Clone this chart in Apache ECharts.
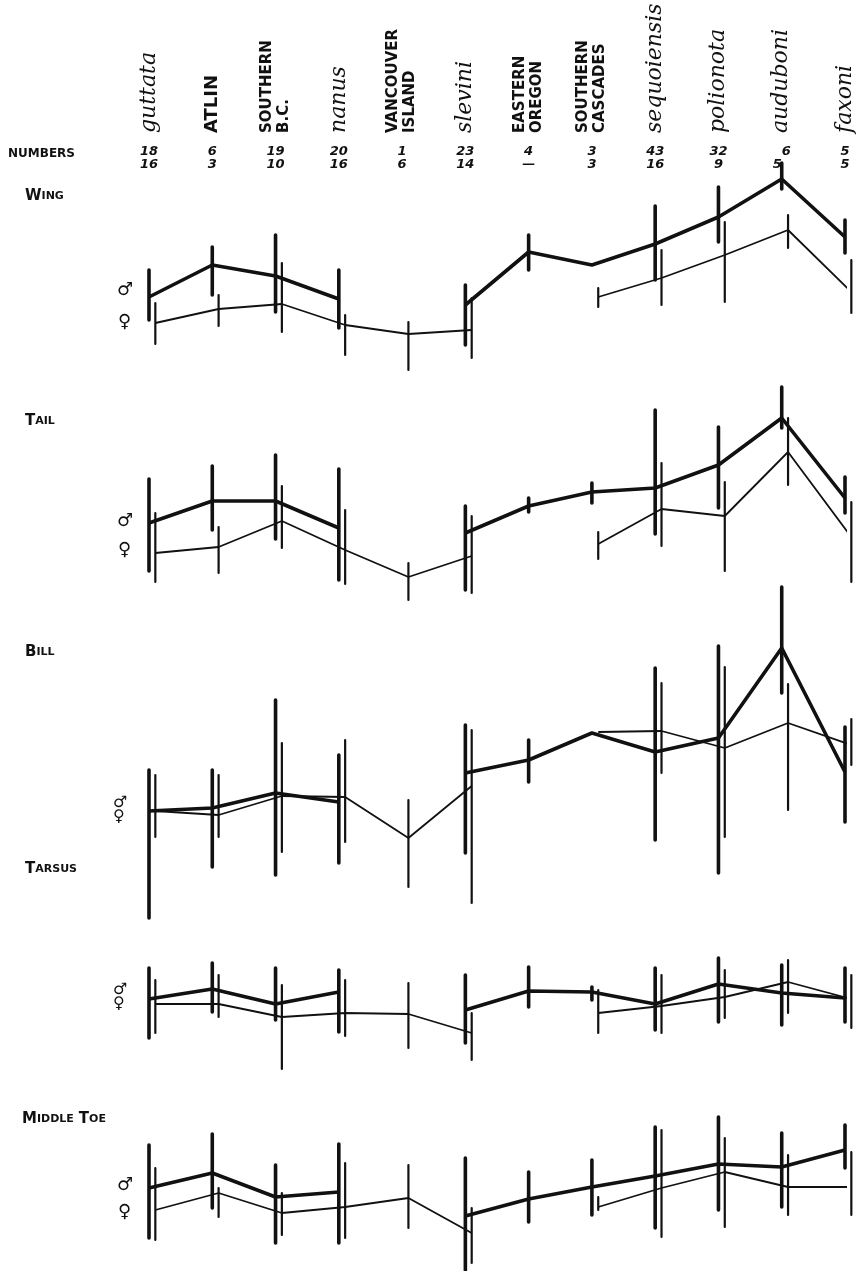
<!DOCTYPE html>
<html>
<head>
<meta charset="utf-8">
<script src="https://cdn.jsdelivr.net/npm/echarts@6/dist/echarts.min.js"></script>
<style>
  html, body { margin: 0; background: #fff; }
  #chart { width: 861px; height: 1271px; }
</style>
</head>
<body>
<div id="chart"></div>
<script>
// races / localities along the top
const races = ['guttata', 'ATLIN', 'SOUTHERN\nB.C.', 'nanus', 'VANCOUVER\nISLAND', 'slevini',
  'EASTERN\nOREGON', 'SOUTHERN\nCASCADES', 'sequoiensis', 'polionota', 'auduboni', 'faxoni'];
const isRace = [true, false, false, true, false, true, false, false, true, true, true, true];
const numMale = ['18', '6', '19', '20', '1', '23', '4', '3', '43', '32', '  6', '5'];
const numFemale = ['16', '3', '10', '16', '6', '14', '—', '3', '16', '9', '5  ', '5'];

// relative measurements (no scale on the original), null = no sample
const wingMale = [83, 115, 104, 81, null, 75, 128, 115, 136, 163, 201, 143];
const wingMaleLo = [60, 85, 68, 52, null, 35, 110, null, 100, 138, 191, 127];
const wingMaleHi = [110, 133, 145, 110, null, 95, 145, null, 174, 193, 217, 160];
const wingFemale = [57, 71, 76, 55, 46, 50, null, 83, 102, 125, 150, 88];
const wingFemaleLo = [36, 54, 48, 25, 10, 22, null, 73, 75, 78, 132, 67];
const wingFemaleHi = [77, 85, 117, 65, 58, 82, null, 92, 130, 158, 165, 120];

const tailMale = [87, 109, 109, 82, null, 77, 104, 118, 122, 145, 192, 112];
const tailMaleLo = [39, 80, 71, 30, null, 20, 98, 107, 76, 102, 182, 97];
const tailMaleHi = [131, 144, 155, 141, null, 104, 112, 127, 200, 183, 223, 133];
const tailFemale = [57, 63, 89, 60, 33, 54, null, 66, 101, 94, 158, 73];
const tailFemaleLo = [28, 37, 62, 26, 10, 17, null, 51, 64, 39, 125, 28];
const tailFemaleHi = [97, 83, 124, 100, 47, 94, null, 78, 147, 128, 192, 108];

const billMale = [119, 122, 137, 128, null, 157, 170, 197, 178, 192, 282, 158];
const billMaleLo = [12, 63, 55, 67, null, 77, 148, null, 90, 57, 237, 108];
const billMaleHi = [160, 160, 230, 175, null, 205, 190, null, 262, 284, 343, 203];
const billFemale = [119, 115, 134, 133, 92, 144, null, 198, 199, 182, 207, 185];
const billFemaleLo = [93, 93, 78, 88, 43, 27, null, null, 157, 93, 120, 165];
const billFemaleHi = [155, 155, 187, 190, 130, 200, null, null, 247, 263, 246, 211];

const tarsusMale = [76, 86, 71, 83, null, 65, 84, 83, 71, 91, 82, 77];
const tarsusMaleLo = [37, 63, 55, 43, null, 32, 68, 75, 45, 53, 50, 53];
const tarsusMaleHi = [107, 112, 107, 105, null, 100, 108, 88, 107, 117, 110, 107];
const tarsusFemale = [71, 71, 58, 62, 61, 42, null, 62, 69, 78, 93, 76];
const tarsusFemaleLo = [42, 58, 6, 39, 27, 15, null, 42, 42, 57, 62, 47];
const tarsusFemaleHi = [95, 100, 90, 95, 92, 62, null, 85, 100, 105, 115, 100];

const toeMale = [83, 98, 74, 79, null, 55, 72, 84, 95, 107, 104, 121];
const toeMaleLo = [33, 63, 28, 28, null, 1, 49, 56, 43, 61, 64, 103];
const toeMaleHi = [126, 137, 106, 127, null, 113, 99, 111, 144, 154, 138, 146];
const toeFemale = [61, 78, 58, 64, 73, 38, null, 64, 83, 99, 84, 84];
const toeFemaleLo = [31, 54, 36, 33, 43, 8, null, 61, 34, 44, 56, 56];
const toeFemaleHi = [103, 83, 78, 108, 106, 63, null, 74, 141, 133, 116, 119];

const panels = [
  { top: 140, height: 240, male: [wingMale, wingMaleLo, wingMaleHi], female: [wingFemale, wingFemaleLo, wingFemaleHi] },
  { top: 380, height: 230, male: [tailMale, tailMaleLo, tailMaleHi], female: [tailFemale, tailFemaleLo, tailFemaleHi] },
  { top: 620, height: 310, male: [billMale, billMaleLo, billMaleHi], female: [billFemale, billFemaleLo, billFemaleHi] },
  { top: 950, height: 125, male: [tarsusMale, tarsusMaleLo, tarsusMaleHi], female: [tarsusFemale, tarsusFemaleLo, tarsusFemaleHi] },
  { top: 1100, height: 171, male: [toeMale, toeMaleLo, toeMaleHi], female: [toeFemale, toeFemaleLo, toeFemaleHi] }
];

const FEMALE_SHIFT = 0.1; // female bars are drawn just right of the male ones
const LEFT = 149, RIGHT = 16;
const ink = '#111';

function lineData(vals, dx) {
  return vals.map((v, i) => [i + dx, v == null ? '-' : v]);
}
function barData(lo, hi, dx) {
  const out = [];
  lo.forEach((l, i) => {
    if (l != null && hi[i] != null) out.push([i + dx, l, hi[i]]);
  });
  return out;
}
function barRenderer(width) {
  return function (params, api) {
    const a = api.coord([api.value(0), api.value(1)]);
    const b = api.coord([api.value(0), api.value(2)]);
    return {
      type: 'line',
      shape: { x1: a[0], y1: a[1], x2: b[0], y2: b[1] },
      style: { stroke: ink, lineWidth: width, lineCap: 'round' }
    };
  };
}

const grids = [], xAxes = [], yAxes = [], series = [];

// label strip at the top
grids.push({ left: LEFT, right: RIGHT, top: 134, height: 8 });
xAxes.push({
  type: 'value', gridIndex: 0, position: 'top', min: 0, max: 11, interval: 1,
  axisLine: { show: false }, axisTick: { show: false }, splitLine: { show: false },
  axisLabel: {
    rotate: 90, margin: 1, color: ink,
    formatter: v => {
      const s = races[v];
      if (isRace[v]) return '{sp|' + s + '}';
      if (s.indexOf('\n') < 0) return '{big|' + s + '}';
      return s.split('\n').map(t => '{pl|' + t + '}').join('\n');
    },
    rich: {
      sp: { fontFamily: 'DejaVu Serif', fontStyle: 'italic', fontSize: 22, color: ink },
      big: { fontFamily: 'DejaVu Sans', fontWeight: 'bold', fontSize: 18, color: ink },
      pl: { fontFamily: 'DejaVu Sans', fontWeight: 'bold', fontSize: 15, lineHeight: 17, color: ink }
    }
  }
});
xAxes.push({
  type: 'value', gridIndex: 0, position: 'bottom', min: 0, max: 11, interval: 1,
  axisLine: { show: false }, axisTick: { show: false }, splitLine: { show: false },
  axisLabel: {
    margin: 3, color: ink, fontFamily: 'DejaVu Sans', fontWeight: 'bold', fontStyle: 'italic',
    fontSize: 13, lineHeight: 13,
    formatter: v => numMale[v] + '\n' + numFemale[v]
  }
});
yAxes.push({ type: 'value', gridIndex: 0, show: false });

panels.forEach((p, k) => {
  const g = k + 1;
  grids.push({ left: LEFT, right: RIGHT, top: p.top, height: p.height });
  xAxes.push({ type: 'value', gridIndex: g, min: 0, max: 11, interval: 1, show: false });
  yAxes.push({ type: 'value', gridIndex: g, min: 0, max: p.height, show: false });
  const xi = g + 1, yi = g;
  series.push({
    type: 'line', xAxisIndex: xi, yAxisIndex: yi, data: lineData(p.male[0], 0),
    symbol: 'none', connectNulls: false, silent: true,
    lineStyle: { color: ink, width: 3.6, join: 'round' }
  });
  series.push({
    type: 'line', xAxisIndex: xi, yAxisIndex: yi, data: lineData(p.female[0], FEMALE_SHIFT),
    symbol: 'none', connectNulls: false, silent: true,
    lineStyle: { color: ink, width: 1.8, join: 'round' }
  });
  series.push({
    type: 'custom', xAxisIndex: xi, yAxisIndex: yi, silent: true,
    data: barData(p.male[1], p.male[2], 0), renderItem: barRenderer(3.6),
    encode: { x: 0, y: [1, 2] }
  });
  series.push({
    type: 'custom', xAxisIndex: xi, yAxisIndex: yi, silent: true,
    data: barData(p.female[1], p.female[2], FEMALE_SHIFT), renderItem: barRenderer(2.2),
    encode: { x: 0, y: [1, 2] }
  });
});

const capsRich = {
  a: { fontFamily: 'DejaVu Sans', fontWeight: 'bold', fontSize: 15, color: ink },
  b: { fontFamily: 'DejaVu Sans', fontWeight: 'bold', fontSize: 11, color: ink }
};
const sexStyle = { fontFamily: 'DejaVu Sans', fontWeight: 'bold', fontSize: 18, color: ink };
function caps(text, left, top) {
  return { text: text, left: left, top: top, padding: 0, textStyle: { rich: capsRich } };
}
function sex(sym, left, top, size) {
  return { text: sym, left: left, top: top, padding: 0,
    textStyle: Object.assign({}, sexStyle, size ? { fontSize: size } : {}) };
}

const titles = [
  { text: 'NUMBERS', left: 8, top: 148, padding: 0,
    textStyle: { fontFamily: 'DejaVu Sans', fontWeight: 'bold', fontSize: 12, color: ink } },
  caps('{a|W}{b|ING}', 25, 189),
  caps('{a|T}{b|AIL}', 25, 414),
  caps('{a|B}{b|ILL}', 25, 645),
  caps('{a|T}{b|ARSUS}', 25, 862),
  caps('{a|M}{b|IDDLE} {a|T}{b|OE}', 22, 1110),
  sex('♂', 117, 281), sex('♀', 118, 313),
  sex('♂', 117, 512), sex('♀', 118, 541),
  sex('♂', 113, 795, 16), sex('♀', 113, 809, 16),
  sex('♂', 113, 982, 16), sex('♀', 113, 996, 16),
  sex('♂', 117, 1176), sex('♀', 118, 1203)
];

const chart = echarts.init(document.getElementById('chart'), null, { renderer: 'canvas' });
chart.setOption({
  backgroundColor: '#fff',
  animation: false,
  title: titles,
  grid: grids,
  xAxis: xAxes,
  yAxis: yAxes,
  series: series
});
</script>
</body>
</html>
